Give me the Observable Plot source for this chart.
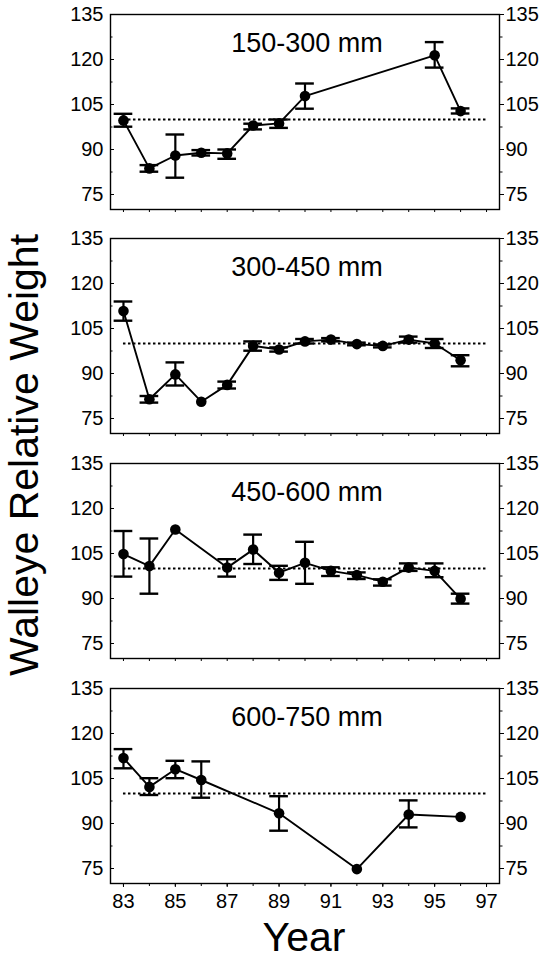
<!DOCTYPE html>
<html><head><meta charset="utf-8">
<script src="https://cdn.jsdelivr.net/npm/d3@7"></script>
<script src="https://cdn.jsdelivr.net/npm/@observablehq/plot@0.6"></script>
<style>
body{margin:0;background:#fff;}
#wrap{position:relative;width:539px;height:959px;font-family:"Liberation Sans",Arial,sans-serif;color:#000;background:#fff;overflow:hidden;}
.panel{position:absolute;left:0;}
.lab{position:absolute;white-space:nowrap;line-height:0.9;}
</style></head><body><div id="wrap"></div>
<script>
// ---- data ----
const panelTitles = ["150-300 mm", "300-450 mm", "450-600 mm", "600-750 mm"];

const years1 = [83, 84, 85, 86, 87, 88, 89, 90, 95, 96];
const wr1    = [99.7, 83.7, 88, 88.9, 88.7, 98, 98.7, 107.8, 121.4, 102.8];
const lo1    = [97.6, 82.6, 80.6, 88, 86.9, 96.7, 97.2, 103.6, 117.3, 102];
const hi1    = [101.9, 84.8, 95, 89.8, 90, 98.6, 100, 112, 125.8, 103.7];

const years2 = [83, 84, 85, 86, 87, 88, 89, 90, 91, 92, 93, 94, 95, 96];
const wr2    = [110.8, 81.4, 89.7, 80.6, 86.2, 99.2, 98, 100.7, 101.3, 99.8, 99.2, 101.3, 100, 94.4];
const lo2    = [107.6, 80.3, 86, null, 85, 97.6, 97.3, 100, 100.7, 99.4, 98.7, 100.3, 98.5, 92.4];
const hi2    = [114, 82.5, 93.7, null, 87.3, 100.7, 98.7, 101.5, 101.8, 100.3, 99.7, 102.3, 101.5, 96.1];

const years3 = [83, 84, 85, 87, 88, 89, 90, 91, 92, 93, 94, 95, 96];
const wr3    = [104.8, 100.8, 113, 100.3, 106.3, 98.6, 101.9, 99.2, 97.8, 95.6, 100.3, 99.2, 89.9];
const lo3    = [97.3, 91.6, null, 97.3, 101.5, 96.2, 94.9, 97.5, 96.5, 94.3, 99.2, 97.1, 88.3];
const hi3    = [112.5, 110, null, 103.1, 111.3, 100.9, 108.9, 100.4, 98.7, 96.4, 101.7, 101.7, 91.6];

const years4 = [83, 84, 85, 86, 89, 92, 94, 96];
const wr4    = [111.8, 102.2, 108.1, 104.5, 93.4, 74.8, 93, 92.2];
const lo4    = [108.4, 99.5, 105.1, 98.6, 87.6, null, 88.7, null];
const hi4    = [114.8, 105.1, 110.9, 110.7, 99.1, null, 97.7, null];

const refValue = [100];
const refSpan = [83, 97];
const yMajor = [75, 90, 105, 120, 135];
const yMinor = [82.5, 97.5, 112.5, 127.5];
const xAllTicks = [83, 84, 85, 86, 87, 88, 89, 90, 91, 92, 93, 94, 95, 96, 97];
const xLabelTicks = [83, 85, 87, 89, 91, 93, 95, 97];
const yLabelText = "Walleye Relative Weight";
const xLabelText = "Year";

// ---- layout ----
const W = 539;
const ML = 110, MR = 40;
const frameTops = [14, 238, 463, 688];
const frameH = 195;
const capHalf = 0.36;
const FONT = "'Liberation Sans', Arial, sans-serif";

const series = [
  [years1, wr1, lo1, hi1],
  [years2, wr2, lo2, hi2],
  [years3, wr3, lo3, hi3],
  [years4, wr4, lo4, hi4]
];

const wrap = document.getElementById("wrap");

series.forEach(([ys, wr, lo, hi], i) => {
  const rows = ys.map((y, k) => ({year: y, wr: wr[k], lo: lo[k], hi: hi[k]}));
  const rowsE = rows.filter(d => d.lo != null && d.hi != null);
  const last = i === series.length - 1;
  const mt = 10, mb = last ? 40 : 12;
  const marks = [
    Plot.ruleY(refValue, {x1: refSpan[0], x2: refSpan[1], stroke: "black", strokeWidth: 1.8, strokeDasharray: "2.5,2.5"}),
    Plot.line(rows, {x: "year", y: "wr", stroke: "black", strokeWidth: 1.9}),
    Plot.ruleX(rowsE, {x: "year", y1: "lo", y2: "hi", stroke: "black", strokeWidth: 2.2}),
    Plot.ruleY(rowsE, {y: "lo", x1: d => d.year - capHalf, x2: d => d.year + capHalf, stroke: "black", strokeWidth: 2.4}),
    Plot.ruleY(rowsE, {y: "hi", x1: d => d.year - capHalf, x2: d => d.year + capHalf, stroke: "black", strokeWidth: 2.4}),
    Plot.dot(rows, {x: "year", y: "wr", r: 5.3, fill: "black", stroke: "none"}),
    Plot.text([panelTitles[i]], {text: d => d, frameAnchor: "top", lineAnchor: "middle", dy: 29, dx: 2, fontSize: 27, fill: "black"}),
    Plot.frame({stroke: "black", strokeWidth: 1.4}),
    Plot.axisY({anchor: "left", ticks: yMajor, tickSize: 0, tickPadding: 7, label: null, fontSize: 20}),
    Plot.axisY({anchor: "left", ticks: yMajor, tickSize: -4, tickFormat: () => "", label: null}),
    Plot.axisY({anchor: "left", ticks: yMinor, tickSize: -2.5, tickFormat: () => "", label: null}),
    Plot.axisY({anchor: "right", ticks: yMajor, tickSize: 0, tickPadding: 6, label: null, fontSize: 20}),
    Plot.axisY({anchor: "right", ticks: yMajor, tickSize: 4, tickFormat: () => "", label: null}),
    Plot.axisY({anchor: "right", ticks: yMinor, tickSize: 2.5, tickFormat: () => "", label: null}),
    Plot.axisX({anchor: "bottom", ticks: xAllTicks, tickSize: 3, tickFormat: () => "", label: null})
  ];
  if (last) {
    marks.push(Plot.axisX({anchor: "bottom", ticks: xLabelTicks, tickSize: 4, tickPadding: 6, tickFormat: d => String(d), label: null, fontSize: 20}));
  }
  const chart = Plot.plot({
    width: W,
    height: mt + frameH + mb,
    marginTop: mt,
    marginBottom: mb,
    marginLeft: ML,
    marginRight: MR,
    x: {domain: [82.5, 97.5]},
    y: {domain: [70, 135]},
    style: {fontFamily: FONT, fontSize: "20px", color: "black", background: "white", overflow: "visible"},
    marks
  });
  const div = document.createElement("div");
  div.className = "panel";
  div.style.top = (frameTops[i] - mt) + "px";
  div.appendChild(chart);
  wrap.appendChild(div);
});

const yl = document.createElement("div");
yl.className = "lab";
yl.textContent = yLabelText;
yl.style.fontSize = "41px";
yl.style.left = "23.5px";
yl.style.top = "455px";
yl.style.transform = "translate(-50%,-50%) rotate(-90deg)";
wrap.appendChild(yl);

const xl = document.createElement("div");
xl.className = "lab";
xl.textContent = xLabelText;
xl.style.fontSize = "41px";
xl.style.left = "304px";
xl.style.top = "937px";
xl.style.transform = "translate(-50%,-50%)";
wrap.appendChild(xl);
</script>
</body></html>
